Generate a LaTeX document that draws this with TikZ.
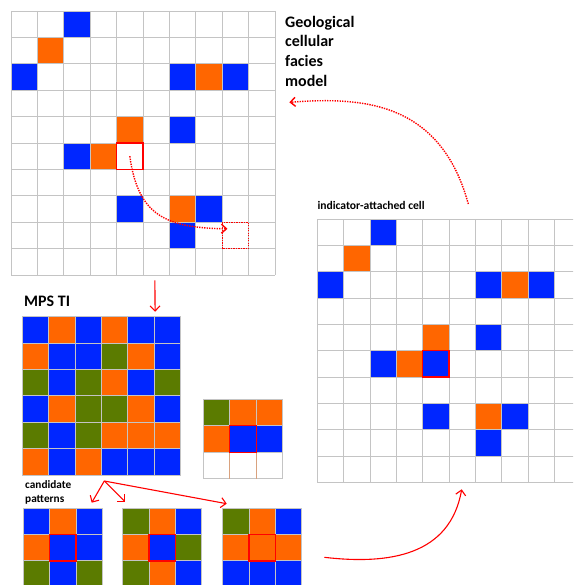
\documentclass[tikz,border=0pt]{standalone}
\usepackage{fontspec}
\setmainfont{Carlito}
\usetikzlibrary{arrows.meta}
\definecolor{faciesB}{HTML}{0026FF}
\definecolor{faciesO}{HTML}{FF6600}
\definecolor{faciesG}{HTML}{5B7B00}
\definecolor{faciesW}{HTML}{FFFFFF}
\definecolor{gridgray}{HTML}{C4C4C4}
\definecolor{cellred}{HTML}{FF0000}
\definecolor{tanline}{HTML}{D9A27E}
\def\faciescells{0/2/B, 1/1/O, 2/0/B, 2/6/B, 2/7/O, 2/8/B, 4/4/O, 4/6/B, 5/2/B, 5/3/O, 7/4/B, 7/6/O, 7/7/B, 8/6/B}

\begin{document}
\begin{tikzpicture}[x=1pt,y=-1pt]
    \tikzset{
        gridline/.style={gridgray, line width=0.9pt},
        centre/.style={cellred, line width=1.4pt},
        flow/.style={cellred, line width=1.1pt, -{Straight Barb[length=5pt,width=10pt]}},
        guess/.style={cellred, line width=1.4pt, dash pattern=on 1.4pt off 1.1pt},
        lbl/.style={font=\bfseries, inner sep=0pt, anchor=base west}
    }
    \useasboundingbox (0,0) rectangle (573,585);
    \clip (0,0) rectangle (573,585);

    % Geological model and its indicator-attached copy
    \foreach \gx/\gy/\gs/\gname/\hc in {11/11/26.4/geo/W, 317.3/219/26.33/ind/B} {
        \begin{scope}[shift={(\gx,\gy)}, x=\gs pt, y=-\gs pt]
            \foreach \r/\k/\c in \faciescells
                \fill[facies\c] (\k,\r) rectangle ++(1,1);
            \fill[facies\hc] (4,5) rectangle ++(1,1);
            \foreach \i in {0,...,10} {
                \draw[gridline] (\i,0) -- (\i,10);
                \draw[gridline] (0,\i) -- (10,\i);
            }
            \draw[centre] (4,5) rectangle ++(1,1);
        \end{scope}
    }

    % Cell visited next (dotted)
    \begin{scope}[shift={(11,11)}, x=26.4pt, y=-26.4pt]
        \draw[guess] (8,8) rectangle ++(1,1);
        \coordinate (geo-c) at (4.5,5.5);
        \coordinate (geo-next) at (8.2,8.25);
        \coordinate (geo-down) at (5.45,10.2);
    \end{scope}

    % MPS training image
    \begin{scope}[shift={(22.3,316.7)}, x=26.4pt, y=-26.4pt]
        \foreach \row [count=\r from 0] in {{B,O,B,O,B,B},{O,B,B,G,O,B},{G,B,G,O,B,G},{B,O,G,G,O,B},{G,B,G,O,O,O},{O,B,O,B,B,B}}
            \foreach \c [count=\k from 0] in \row
                \fill[facies\c] (\k,\r) rectangle ++(1,1);
        \foreach \i in {0,...,6} {
            \draw[gridline] (\i,0) -- (\i,6);
            \draw[gridline] (0,\i) -- (6,\i);
        }
        \coordinate (ti-in) at (5.03,-0.19);
    \end{scope}

    % Data event around the indicator-attached cell
    \begin{scope}[shift={(203.3,399.3)}, x=26.45pt, y=-26.45pt]
        \foreach \row [count=\r from 0] in {{G,O,O},{O,B,B},{W,W,W}}
            \foreach \c [count=\k from 0] in \row
                \fill[facies\c] (\k,\r) rectangle ++(1,1);
        \foreach \i in {0,...,3} {
            \draw[gridline] (\i,0) -- (\i,3);
            \draw[gridline] (0,\i) -- (3,\i);
        }
        \draw[tanline, line width=0.9pt] (1,2) -- (1,3) (2,2) -- (2,3);
        \draw[centre] (1,1) rectangle ++(1,1);
    \end{scope}

    % Candidate patterns
    \foreach \px/\pname/\cells in {
        23.3/candA/{{B,O,B},{O,B,B},{G,B,G}},
        122.7/candB/{{G,O,B},{O,B,G},{G,O,B}},
        222.7/candC/{{G,O,B},{O,O,O},{B,B,B}}%
    } {
        \begin{scope}[shift={(\px,508.3)}, x=26.4pt, y=-26.3pt]
            \foreach \row [count=\r from 0] in \cells
                \foreach \c [count=\k from 0] in \row
                    \fill[facies\c] (\k,\r) rectangle ++(1,1);
            \foreach \i in {0,...,3} {
                \draw[gridline] (\i,0) -- (\i,3);
                \draw[gridline] (0,\i) -- (3,\i);
            }
            \draw[centre] (1,1) rectangle ++(1,1);
        \end{scope}
    }

    % Labels (base = last line)
    \node[lbl, align=left, font=\bfseries\fontsize{16}{19.6}\selectfont] (geotitle) at (285,86.1) {Geological\\cellular\\facies\\model};
    \node[lbl, font=\bfseries\fontsize{11.6}{14}\selectfont] (indlabel) at (317.3,209.3) {indicator-attached cell};
    \node[lbl, font=\bfseries\fontsize{16}{19.6}\selectfont] (tilabel) at (24,306.7) {MPS TI};
    \node[lbl, align=left, font=\bfseries\fontsize{11.3}{14}\selectfont] (candlabel) at (25,502.3) {candidate\\patterns};

    % Arrow end points
    \coordinate (split) at (104.3,481);
    \coordinate (candA-in) at (91.7,502.7);
    \coordinate (candB-in) at (125,501.7);
    \coordinate (candC-in) at (226.7,503.7);
    \coordinate (back-start) at (324.3,557.3);
    \coordinate (back-end) at (461.7,489.3);
    \coordinate (ind-out) at (468.3,204);
    \coordinate (geo-in) at (289.3,102.3);

    % Connectors
    \draw[guess, -{Straight Barb[length=5pt,width=9pt]}] (geo-c) .. controls (138,215) and (165,228) .. (geo-next);
    \draw[flow] (geo-down) -- (ti-in);
    \foreach \dest in {candA-in, candB-in, candC-in}
        \draw[flow] (split) -- (\dest);
    \draw[flow] (back-start) .. controls (390,565) and (450,555) .. (back-end);
    \draw[guess, -{Straight Barb[length=5pt,width=9pt]}] (ind-out) .. controls (440,100) and (360,97) .. (geo-in);

\end{tikzpicture}
\end{document}
